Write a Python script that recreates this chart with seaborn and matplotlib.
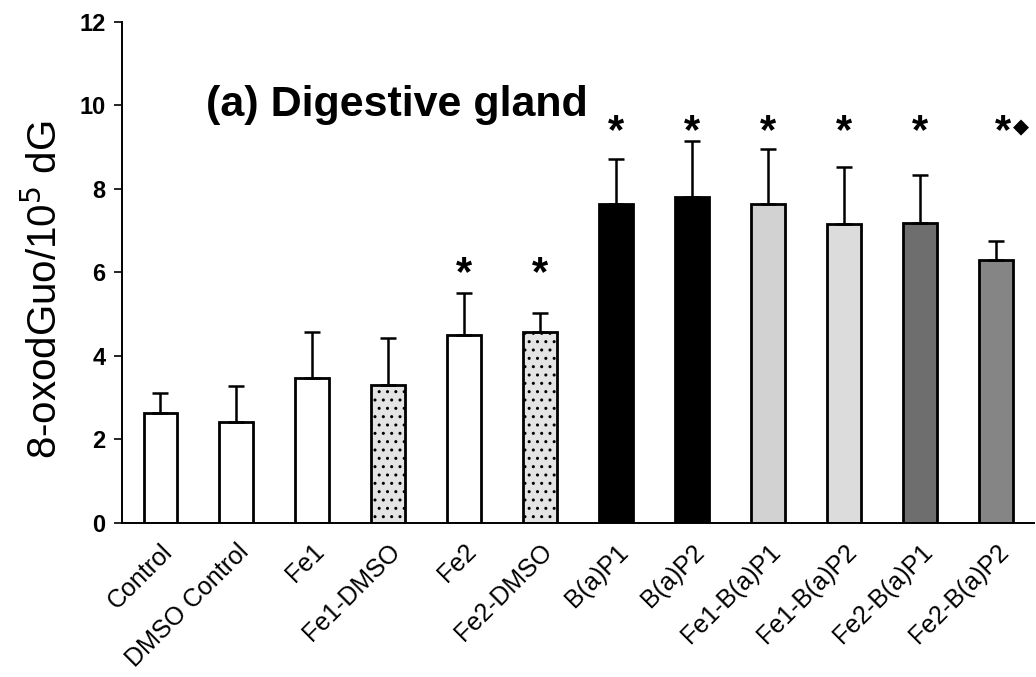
import numpy as np
import pandas as pd
import matplotlib
matplotlib.use("Agg")
import matplotlib.pyplot as plt
import seaborn as sns

# dati
gruppi = ["Control", "DMSO Control", "Fe1", "Fe1-DMSO", "Fe2", "Fe2-DMSO",
          "B(a)P1", "B(a)P2", "Fe1-B(a)P1", "Fe1-B(a)P2", "Fe2-B(a)P1", "Fe2-B(a)P2"]
medie = [2.63, 2.42, 3.47, 3.30, 4.50, 4.57, 7.63, 7.80, 7.63, 7.15, 7.18, 6.29]
errori = [0.48, 0.86, 1.10, 1.13, 1.00, 0.45, 1.10, 1.34, 1.32, 1.37, 1.15, 0.46]
stella = [False, False, False, False, True, True, True, True, True, True, True, True]
diamante = [False] * 11 + [True]
colori = ["white", "white", "white", "#e4e4e4", "white", "#e4e4e4",
          "black", "black", "#d2d2d2", "#dcdcdc", "#6e6e6e", "#858585"]
tratteggio = ["", "", "", "..", "", "..", "", "", "", "", "", ""]

sns.set_theme(style="white")
plt.rcParams["font.family"] = ["Liberation Sans", "DejaVu Sans"]
plt.rcParams.update({"text.color": "black", "axes.labelcolor": "black",
                     "xtick.color": "black", "ytick.color": "black"})

df = pd.DataFrame({"Gruppo": gruppi, "Valore": medie})

fig = plt.figure(figsize=(10.36, 6.77), dpi=100)
ax = fig.add_axes([0.118, 0.2275, 0.88, 0.74])

sns.barplot(data=df, x="Gruppo", y="Valore", hue="Gruppo", palette=colori,
            legend=False, width=0.44, edgecolor="black", linewidth=2.0, ax=ax)

for patch, h in zip(ax.patches, tratteggio):
    if h:
        patch.set_hatch(h)

x = np.arange(len(gruppi))
ax.errorbar(x, medie, yerr=[np.zeros(len(errori)), errori], fmt="none",
            ecolor="black", elinewidth=1.8, capsize=6, capthick=1.8)

# asterischi di significatività
for xi, m, s, d in zip(x, medie, stella, diamante):
    if not s:
        continue
    y_stella = 9.36 if m > 6 else 5.96
    ax.text(xi + (0.09 if d else 0), y_stella, "*", ha="center", va="center",
            fontsize=30, fontweight="bold")
    if d:
        ax.text(xi + 0.33, y_stella + 0.12, "\u25c6", ha="center", va="center",
                fontsize=15, family=["DejaVu Sans"])

ax.set_ylim(0, 12)
ax.set_xlim(-0.5, 11.42)
ax.set_yticks(range(0, 13, 2))
ax.set_yticklabels([str(v) for v in range(0, 13, 2)], fontsize=17, fontweight="bold")
ax.set_xticks(x)
ax.set_xticklabels(gruppi, rotation=45, ha="right", rotation_mode="anchor", fontsize=18)
ax.set_xticks(np.arange(-0.5, len(gruppi), 1), minor=True)
ax.tick_params(axis="x", which="major", length=0, pad=12)
ax.tick_params(axis="x", which="minor", length=10, width=1.2, direction="out")
ax.tick_params(axis="y", length=6, width=1.2, direction="out", left=True, pad=6)

for lato in ["top", "right"]:
    ax.spines[lato].set_visible(False)
for lato in ["left", "bottom"]:
    ax.spines[lato].set_color("black")
    ax.spines[lato].set_linewidth(1.4)

ax.set_xlabel("")
ax.set_ylabel("8-oxodGuo/10$^{5}$ dG", fontsize=29)
ax.yaxis.set_label_coords(-0.063, 0.465)
ax.text(0.092, 0.834, "(a) Digestive gland", transform=ax.transAxes,
        fontsize=31, fontweight="bold", ha="left", va="center")

plt.savefig("out.png", dpi=100)
plt.close()
